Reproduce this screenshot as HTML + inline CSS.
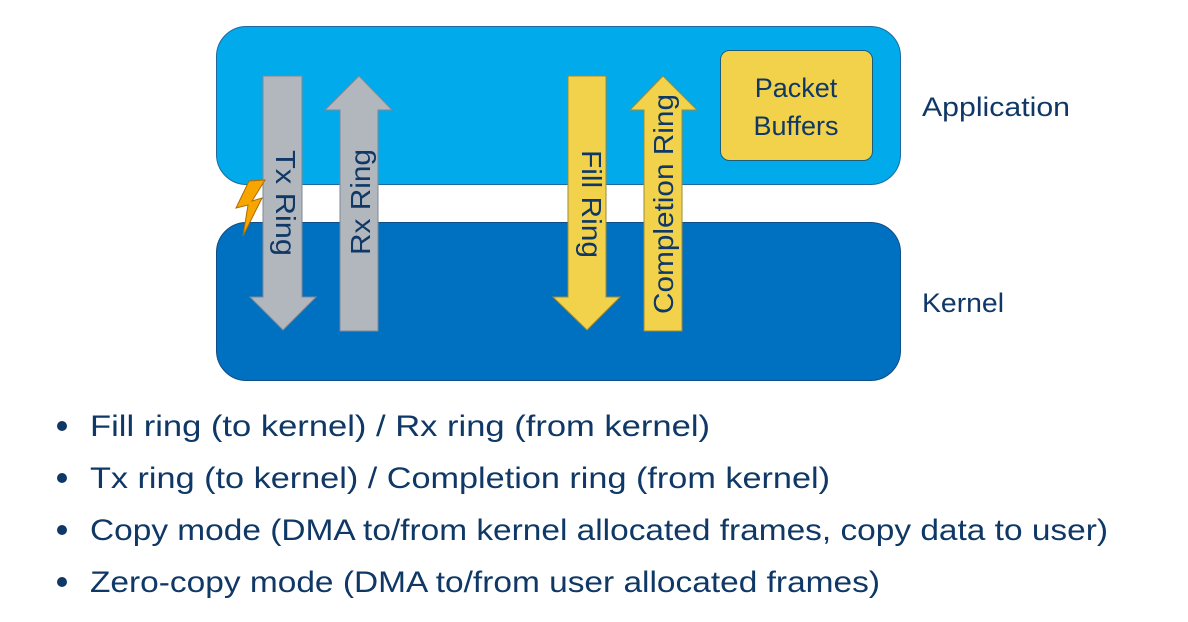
<!DOCTYPE html>
<html><head><meta charset="utf-8"><style>
html,body{margin:0;padding:0;background:#fff;width:1188px;height:622px;overflow:hidden}
text{font-family:"Liberation Sans","DejaVu Sans",sans-serif;fill:#0f3866}
</style></head><body>
<svg width="1188" height="622" viewBox="0 0 1188 622" xmlns="http://www.w3.org/2000/svg">
<rect x="216.5" y="26.5" width="684" height="158" rx="30" fill="#00aaeb" stroke="#1e6aa0" stroke-width="1"/>
<rect x="216.5" y="222.5" width="684" height="158" rx="30" fill="#0070c0" stroke="#0d4d88" stroke-width="1"/>
<rect x="720.5" y="50.5" width="152" height="110" rx="9" fill="#f2d14b" stroke="#1e5d7a" stroke-width="1"/>
<text x="796" y="97" font-size="27" text-anchor="middle">Packet</text>
<text x="796" y="135" font-size="27" text-anchor="middle">Buffers</text>
<text x="922" y="116" font-size="27" textLength="148" lengthAdjust="spacingAndGlyphs">Application</text>
<text x="922" y="312" font-size="27" textLength="82" lengthAdjust="spacingAndGlyphs">Kernel</text>
<!-- Tx arrow down -->
<polygon points="263,76 302,76 302,297 316,297 283,330 250,297 263,297" fill="#b1b7bd" stroke="#7d8a96" stroke-width="1"/>
<!-- Rx arrow up -->
<polygon points="340,331 378,331 378,110 392,110 359,76 325,110 340,110" fill="#b1b7bd" stroke="#7d8a96" stroke-width="1"/>
<!-- Fill arrow down -->
<polygon points="568,76 606,76 606,297 620,297 587,330 553,297 568,297" fill="#f2d14b" stroke="#9a8a3a" stroke-width="1"/>
<!-- Completion arrow up -->
<polygon points="644,331 682,331 682,110 697,110 663,76 630,110 644,110" fill="#f2d14b" stroke="#9a8a3a" stroke-width="1"/>
<text transform="translate(276,150) rotate(90)" font-size="28" textLength="106" lengthAdjust="spacingAndGlyphs">Tx Ring</text>
<text transform="translate(370,255) rotate(-90)" font-size="28" textLength="106" lengthAdjust="spacingAndGlyphs">Rx Ring</text>
<text transform="translate(582,150) rotate(90)" font-size="28" textLength="108" lengthAdjust="spacingAndGlyphs">Fill Ring</text>
<text transform="translate(673,314) rotate(-90)" font-size="28" textLength="220" lengthAdjust="spacingAndGlyphs">Completion Ring</text>
<polygon points="265,180 249,181 236,208 248,205 243,236 262,198 252,201" fill="#f7a600" stroke="#b06a00" stroke-width="1"/>
<g font-size="30">
<circle cx="62" cy="426" r="5" fill="#0f3866"/>
<text x="90" y="436" textLength="620" lengthAdjust="spacingAndGlyphs">Fill ring (to kernel) / Rx ring (from kernel)</text>
<circle cx="62" cy="478" r="5" fill="#0f3866"/>
<text x="90" y="488" textLength="740" lengthAdjust="spacingAndGlyphs">Tx ring (to kernel) / Completion ring (from kernel)</text>
<circle cx="62" cy="530" r="5" fill="#0f3866"/>
<text x="90" y="540" textLength="1018" lengthAdjust="spacingAndGlyphs">Copy mode (DMA to/from kernel allocated frames, copy data to user)</text>
<circle cx="62" cy="582" r="5" fill="#0f3866"/>
<text x="90" y="592" textLength="790" lengthAdjust="spacingAndGlyphs">Zero-copy mode (DMA to/from user allocated frames)</text>
</g>
</svg>
</body></html>
